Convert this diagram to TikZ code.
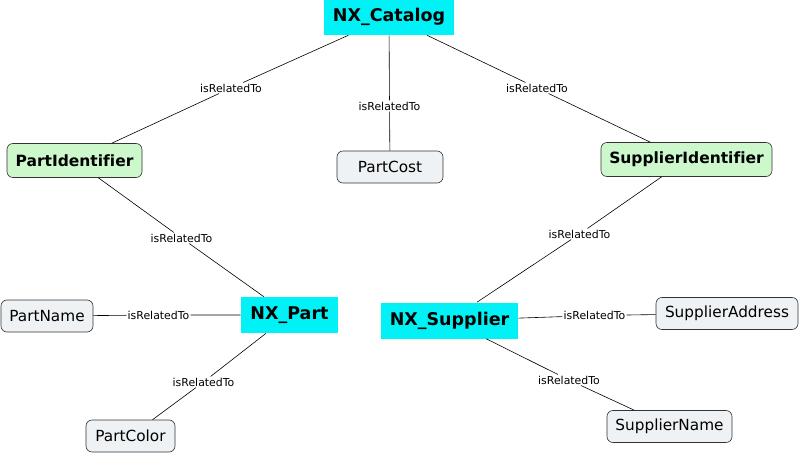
\documentclass[tikz,border=0pt]{standalone}
\usepackage{fontspec}
\setmainfont{DejaVu Sans}[Ligatures=NoCommon]
\definecolor{nxcyan}{HTML}{00F2F6}
\definecolor{idgreen}{HTML}{CCF8CC}
\definecolor{attrgray}{HTML}{EEF2F4}
\tikzset{
  nxbox/.style={draw=none, fill=nxcyan, rectangle, minimum height=36pt, font=\fontsize{17.5}{20}\selectfont\bfseries},
  idbox/.style={draw=black!80, fill=idgreen, rectangle, rounded corners=6pt, minimum height=34pt, font=\fontsize{15.5}{18}\selectfont\bfseries},
  attrbox/.style={draw=black!80, fill=attrgray, rectangle, rounded corners=6pt, minimum height=32pt, font=\fontsize{15.3}{18}\selectfont},
  rel/.style={inner sep=1pt, font=\fontsize{10.9}{12}\selectfont}
}
\begin{document}
\begin{tikzpicture}[x=1pt, y=-1pt, semithick]
    \useasboundingbox (0,0) rectangle (800,457);

    % Conceitos principais
    \node[nxbox, minimum width=130pt] (cat) at (389,17) {NX\_Catalog};
    \node[nxbox, minimum width=97pt] (part) at (289.5,315) {NX\_Part};
    \node[nxbox, minimum width=137pt] (sup) at (449.5,320.5) {NX\_Supplier};

    % Identificadores
    \node[idbox, minimum width=135pt] (pid) at (74.5,160.5) {PartIdentifier};
    \node[idbox, minimum width=171pt] (sid) at (686.5,159.5) {SupplierIdentifier};

    % Atributos
    \node[attrbox, minimum width=106pt] (cost) at (390,167) {PartCost};
    \node[attrbox, minimum width=92pt] (pname) at (47,316) {PartName};
    \node[attrbox, minimum width=89pt] (pcolor) at (130.5,436) {PartColor};
    \node[attrbox, minimum width=142pt] (saddr) at (727,313.5) {SupplierAddress};
    \node[attrbox, minimum width=125pt] (sname) at (669.5,426.5) {SupplierName};

    % Frases de ligação
    \node[rel] (r1) at (231,88) {isRelatedTo};
    \node[rel] (r2) at (389.5,106) {isRelatedTo};
    \node[rel] (r3) at (537,88) {isRelatedTo};
    \node[rel] (r4) at (181.5,238) {isRelatedTo};
    \node[rel] (r5) at (579.5,234) {isRelatedTo};
    \node[rel] (r6) at (158.5,315) {isRelatedTo};
    \node[rel] (r7) at (203.5,382) {isRelatedTo};
    \node[rel] (r8) at (594.5,315.5) {isRelatedTo};
    \node[rel] (r9) at (569,380) {isRelatedTo};

    % Ligações
    \draw (cat) -- (r1) -- (pid);
    \draw (cat) -- (r2) -- (cost);
    \draw (cat) -- (r3) -- (sid);
    \draw (pid) -- (r4) -- (part);
    \draw (sid) -- (r5) -- (sup);
    \draw (part) -- (r6) -- (pname);
    \draw (part) -- (r7) -- (pcolor);
    \draw (sup) -- (r8) -- (saddr);
    \draw (sup) -- (r9) -- (sname);
  \end{tikzpicture}
\end{document}
